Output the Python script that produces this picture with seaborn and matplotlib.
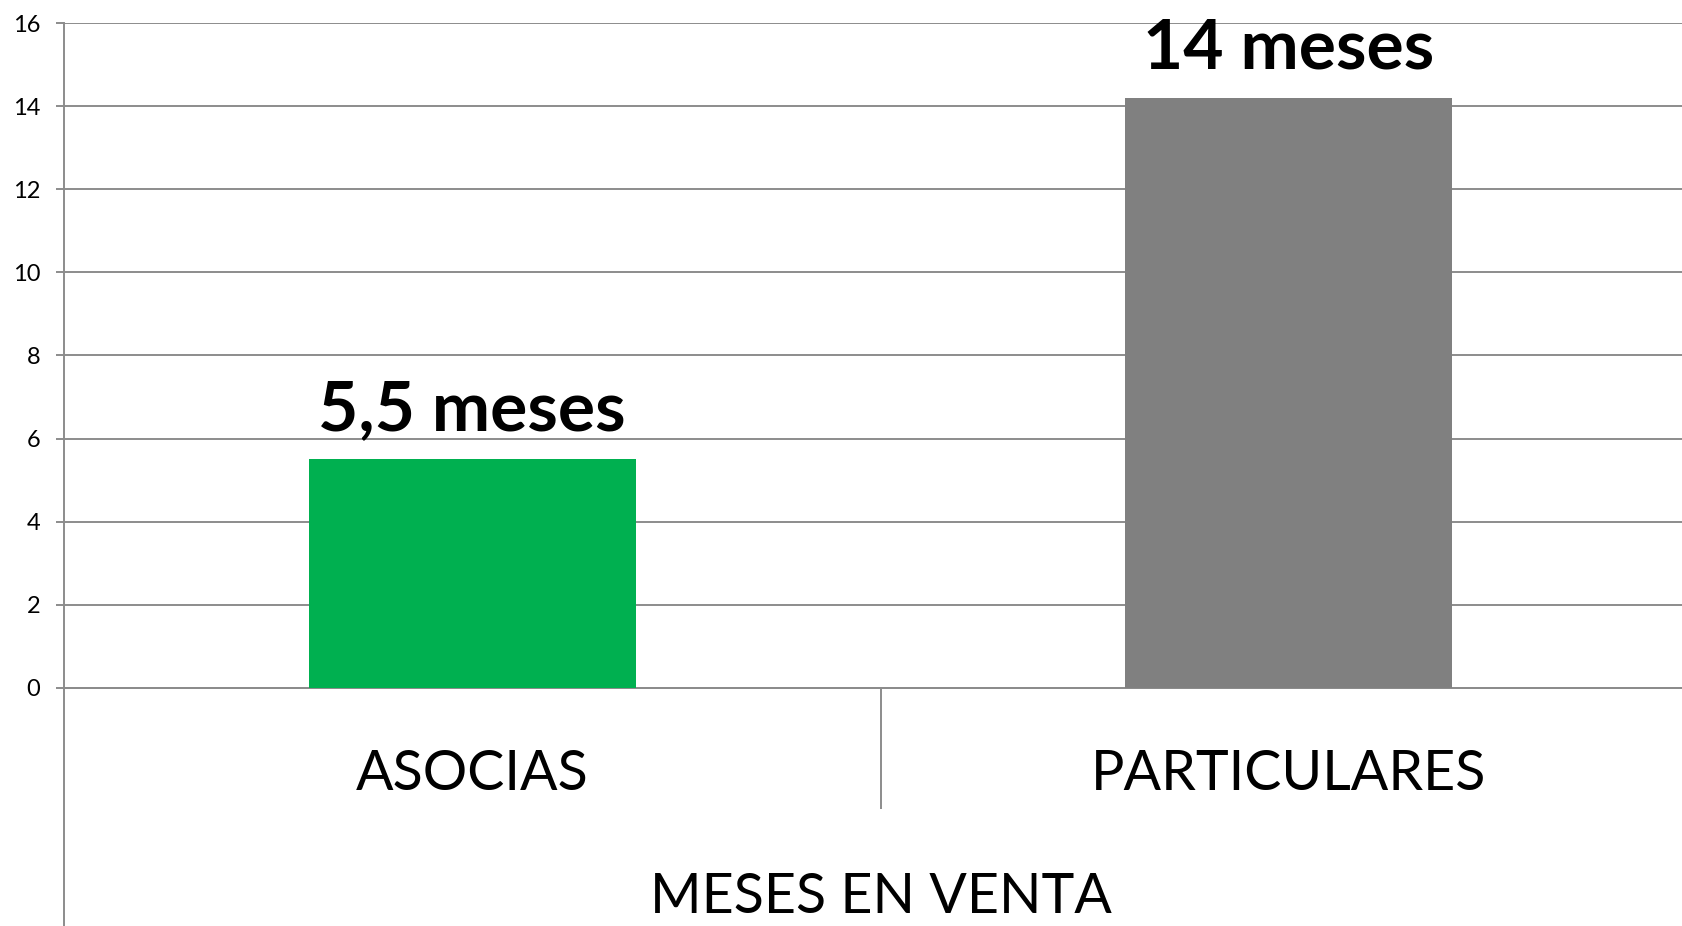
import matplotlib
matplotlib.use("Agg")
import matplotlib.pyplot as plt
import seaborn as sns

categories = ["ASOCIAS", "PARTICULARES"]
values = [5.5, 14.2]
bar_labels = ["5,5 meses", "14 meses"]
bar_colors = ["#00B050", "#808080"]
yticks = [0, 2, 4, 6, 8, 10, 12, 14, 16]
xlabel = "MESES EN VENTA"

sns.set_style("white")
plt.rcParams['font.family'] = ['Lato', 'DejaVu Sans']

W, H = 1682, 926
fig = plt.figure(figsize=(W / 100, H / 100), dpi=100)
ax = fig.add_axes([64 / W, 0, (1697 - 64) / W, (H - 23) / H])

grid_c = "#8c8c8c"
sns.barplot(x=categories, y=values, hue=categories, palette=bar_colors,
            width=0.4, legend=False, ax=ax, saturation=1, zorder=3,
            linewidth=0, edgecolor="none")

ax.set_xlim(-0.5, 1.5)
ax.set_ylim(-5.73, 16)
ax.set_yticks(yticks)
ax.set_yticklabels([str(t) for t in yticks])
ax.yaxis.grid(True, color=grid_c, linewidth=1.4, zorder=0)
ax.set_axisbelow(True)

for s in ["top", "right"]:
    ax.spines[s].set_visible(False)
ax.spines["left"].set_color(grid_c)
ax.spines["left"].set_linewidth(1.4)
ax.spines["bottom"].set_position(("data", 0))
ax.spines["bottom"].set_color(grid_c)
ax.spines["bottom"].set_linewidth(1.4)

ax.tick_params(axis="y", left=True, length=6, width=1.4, color=grid_c, pad=11,
               labelsize=17, labelcolor="black")
ax.tick_params(axis="x", which="major", bottom=True, length=0, pad=44,
               labelsize=40, labelcolor="black")
ax.set_xticks([0.5], minor=True)
ax.tick_params(axis="x", which="minor", bottom=True, length=87, width=1.4,
               color=grid_c, direction="out")

ax.set_xlabel(xlabel, fontsize=40, labelpad=42, color="black")

for i, (v, lab) in enumerate(zip(values, bar_labels)):
    ax.annotate(lab, (i, v), xytext=(0, 21), textcoords="offset points",
                ha="center", va="baseline", fontsize=50, fontweight="bold",
                color="black")

fig.savefig("out.png", dpi=100)
